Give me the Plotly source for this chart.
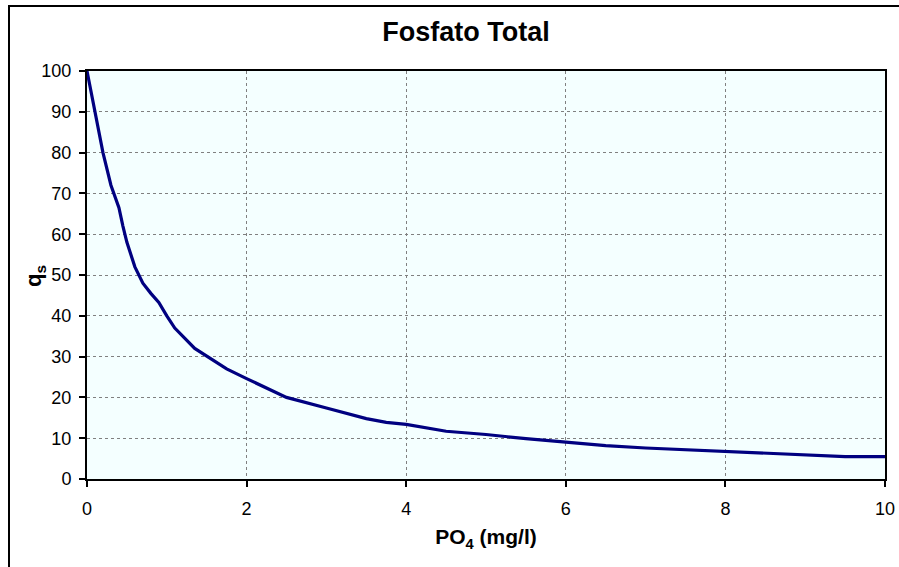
import plotly.graph_objects as go

po4 = [0, 0.05, 0.1, 0.2, 0.3, 0.4, 0.45, 0.5, 0.6, 0.7, 0.8, 0.9, 1.0, 1.1, 1.35, 1.75,
       2.0, 2.5, 3.0, 3.5, 3.75, 4.0, 4.5, 5.0, 5.5, 6.0, 6.5, 7.0, 7.5, 8.0, 8.5, 9.0, 9.5, 10.0]
qs = [100, 95, 89, 80, 72, 66.5, 62, 58, 52, 48, 45.5, 43.3, 40, 37, 32, 27,
      24.6, 20, 17.4, 14.8, 13.9, 13.4, 11.7, 10.9, 9.9, 9.1, 8.2, 7.6, 7.2, 6.8, 6.4, 6.0, 5.5, 5.5]
x_ticks = [0, 2, 4, 6, 8, 10]
y_ticks = [0, 10, 20, 30, 40, 50, 60, 70, 80, 90, 100]

FONT = "Arial, Liberation Sans, sans-serif"

fig = go.Figure()
fig.add_trace(go.Scatter(x=po4, y=qs, mode="lines",
                         line=dict(color="#000080", width=3.2), showlegend=False))

L, R, T, B = 87, 885, 71, 479
W, H = 899, 567
pw, ph = R - L, B - T

fig.update_layout(
    width=W, height=H, autosize=False,
    margin=dict(l=L, r=W - R, t=T, b=H - B, autoexpand=False),
    paper_bgcolor="white",
    plot_bgcolor="#F4FFFF",
    font=dict(family=FONT, size=18, color="black"),
    title=dict(text="<b>Fosfato Total</b>", font=dict(size=27, family=FONT, color="black"),
               x=(466 - L) / pw, xref="paper", xanchor="center",
               y=1 - 32 / H, yref="container", yanchor="middle", automargin=False),
    xaxis=dict(range=[0, 10], tickvals=x_ticks, ticks="outside", ticklen=6, tickwidth=2,
               tickcolor="black", showline=True, linewidth=2, linecolor="black", mirror=True,
               showgrid=True, gridcolor="#808080", gridwidth=1, griddash="dot",
               zeroline=False, ticklabelstandoff=6, automargin=False,
               title=dict(text="<b>PO<sub>4</sub> (mg/l)</b>", font=dict(size=21), standoff=12)),
    yaxis=dict(range=[0, 100], tickvals=y_ticks, ticks="outside", ticklen=6, tickwidth=2,
               tickcolor="black", showline=True, linewidth=2, linecolor="black", mirror=True,
               showgrid=True, gridcolor="#808080", gridwidth=1, griddash="dot",
               zeroline=False, ticklabelstandoff=4, automargin=False),
)

fig.add_annotation(text="<b>q<sub>s</sub></b>", xref="paper", yref="paper",
                   x=(35 - L) / pw, y=(B - 276) / ph, xanchor="center", yanchor="middle",
                   textangle=-90, showarrow=False, font=dict(size=22, family=FONT, color="black"))

fig.add_shape(type="rect", xref="paper", yref="paper",
              x0=(9 - L) / pw, x1=1.2, y0=-0.4, y1=(B - 6) / ph,
              line=dict(color="black", width=2), fillcolor="rgba(0,0,0,0)", layer="below")

fig.write_html("out.html", config={"displayModeBar": False},
               post_script="document.body.style.margin='0';document.body.style.overflow='hidden';")
